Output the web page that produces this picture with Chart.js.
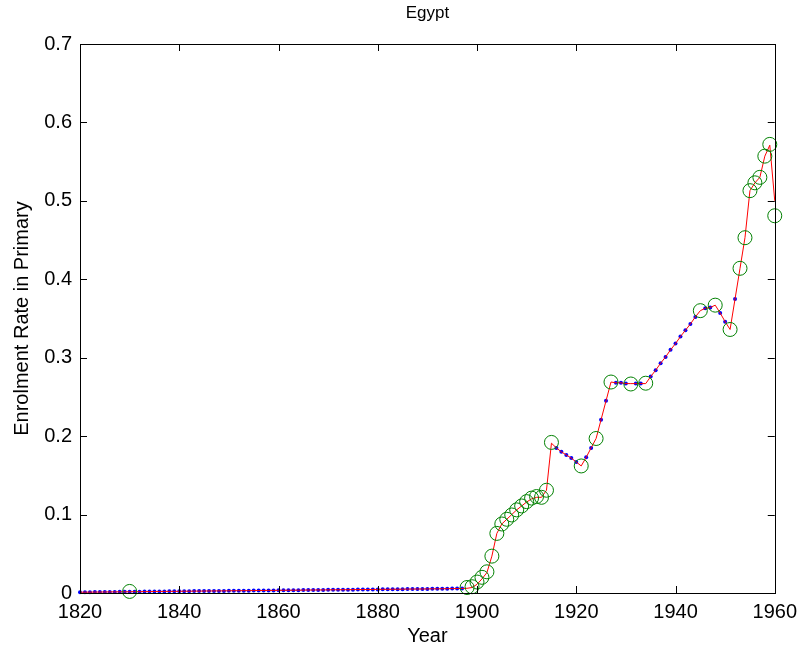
<!DOCTYPE html>
<html>
<head>
<meta charset="utf-8">
<script src="https://cdn.jsdelivr.net/npm/chart.js@4/dist/chart.umd.min.js"></script>
<style>
  html, body { margin: 0; padding: 0; background: #fff; }
  canvas { display: block; }
</style>
</head>
<body>
<canvas id="c" width="804" height="653"></canvas>
<script>
// ---- DATA ----
const chartTitle = "Egypt";
const xTitle = "Year";
const yTitle = "Enrolment Rate in Primary";
const xTicks = [1820, 1840, 1860, 1880, 1900, 1920, 1940, 1960];
const yTicks = [0, 0.1, 0.2, 0.3, 0.4, 0.5, 0.6, 0.7];

// yearly series (red line), 1820 .. 1960
const lineYears = [];
for (let y = 1820; y <= 1960; y++) lineYears.push(y);
const lineValues = [
  0.0010,0.0011,0.0011,0.0012,0.0012,0.0013,0.0014,0.0014,0.0015,0.0015,
  0.0016,0.0017,0.0017,0.0018,0.0018,0.0019,0.0020,0.0020,0.0021,0.0021,
  0.0022,0.0023,0.0023,0.0024,0.0024,0.0025,0.0026,0.0026,0.0027,0.0027,
  0.0028,0.0029,0.0029,0.0030,0.0030,0.0031,0.0032,0.0032,0.0033,0.0033,
  0.0034,0.0035,0.0035,0.0036,0.0036,0.0037,0.0038,0.0038,0.0039,0.0039,
  0.0040,0.0041,0.0041,0.0042,0.0042,0.0043,0.0044,0.0044,0.0045,0.0045,
  0.0046,0.0047,0.0047,0.0048,0.0048,0.0049,0.0050,0.0050,0.0051,0.0051,
  0.0052,0.0053,0.0053,0.0054,0.0055,0.0056,0.0057,0.0058,
  0.006,0.007,0.011,0.018,0.026,0.047,0.076,0.088,0.094,0.100,
  0.106,0.111,0.116,0.120,0.122,0.122,0.131,
  0.191,0.185,0.180,0.176,0.172,0.167,0.162,0.173,0.185,0.197,
  0.221,0.245,0.269,0.268,0.268,0.267,0.267,0.267,0.267,0.267,
  0.276,0.284,0.293,0.301,0.310,0.318,0.327,0.335,0.343,0.352,
  0.360,0.363,0.364,0.367,0.357,0.346,0.336,0.375,0.414,0.453,
  0.513,0.523,0.530,0.557,0.571,0.500
];

// observed points (green circles)
const obsYears = [1830,
  1898,1899,1900,1901,1902,1903,1904,1905,1906,1907,1908,1909,1910,1911,1912,1913,1914,1915,
  1921,1924,1927,1931,1934,1945,1948,1951,
  1953,1954,1955,1956,1957,1958,1959,1960];
const obsValues = [0.002,
  0.007,0.008,0.014,0.020,0.027,0.047,0.076,0.088,0.094,0.0995,0.106,0.111,0.1165,0.121,0.123,0.122,0.131,0.192,
  0.162,0.197,0.269,0.2665,0.2675,0.360,0.367,0.336,
  0.414,0.453,0.513,0.523,0.530,0.557,0.572,0.481];

// ---- BUILD ----
const linePts = lineYears.map((x, i) => ({ x, y: lineValues[i] }));
const obsSet = new Set(obsYears.filter(y => y > 1830));
const bluePts = lineYears.map((x, i) => ({ x, y: lineValues[i] })).filter(p => !obsSet.has(p.x));
const obsPts = obsYears.map((x, i) => ({ x, y: obsValues[i] }));

const FONT = "'Liberation Sans', Arial, Helvetica, sans-serif";

const boxTicks = {
  id: 'boxTicks',
  afterDatasetsDraw(chart) {
    const { ctx, chartArea: a, scales } = chart;
    const L = 7;
    ctx.save();
    ctx.strokeStyle = '#000';
    ctx.lineWidth = 1;
    ctx.beginPath();
    xTicks.forEach(v => {
      const px = Math.round(scales.x.getPixelForValue(v)) + 0.5;
      ctx.moveTo(px, a.bottom); ctx.lineTo(px, a.bottom - L);
      ctx.moveTo(px, a.top); ctx.lineTo(px, a.top + L);
    });
    yTicks.forEach(v => {
      const py = Math.round(scales.y.getPixelForValue(v)) + 0.5;
      ctx.moveTo(a.left, py); ctx.lineTo(a.left + L, py);
      ctx.moveTo(a.right, py); ctx.lineTo(a.right - L, py);
    });
    ctx.stroke();
    ctx.strokeRect(Math.round(a.left) + 0.5, Math.round(a.top) + 0.5,
                   Math.round(a.right - a.left), Math.round(a.bottom - a.top));
    // title centred over the plot box
    ctx.fillStyle = '#000';
    ctx.font = "17px " + FONT;
    ctx.textAlign = 'center';
    ctx.textBaseline = 'middle';
    ctx.fillText(chartTitle, (a.left + a.right) / 2, 13);
    ctx.restore();
  }
};

new Chart(document.getElementById('c'), {
  type: 'scatter',
  data: {
    datasets: [
      {
        label: 'observed',
        data: obsPts,
        showLine: false,
        pointStyle: 'circle',
        pointRadius: 7,
        pointBorderColor: '#008000',
        pointBackgroundColor: 'rgba(0,0,0,0)',
        pointBorderWidth: 1,
        clip: false,
        order: 1
      },
      {
        label: 'series',
        data: linePts,
        showLine: true,
        borderColor: '#ff0000',
        borderWidth: 1,
        pointRadius: 0,
        tension: 0,
        clip: false,
        order: 2
      },
      {
        label: 'interpolated',
        data: bluePts,
        showLine: false,
        pointStyle: 'circle',
        pointRadius: 2,
        pointBorderWidth: 0,
        pointBackgroundColor: '#0000ff',
        pointBorderColor: '#0000ff',
        clip: false,
        order: 3
      }
    ]
  },
  options: {
    responsive: false,
    animation: false,
    events: [],
    layout: { padding: { left: 0, right: 29, top: 44, bottom: 0 } },
    plugins: {
      legend: { display: false },
      tooltip: { enabled: false },
      title: { display: false }
    },
    scales: {
      x: {
        type: 'linear',
        min: 1820, max: 1960,
        afterBuildTicks(scale) { scale.ticks = xTicks.map(v => ({ value: v })); },
        afterFit(scale) { scale.height = 60; },
        grid: { display: false, drawTicks: false },
        border: { display: false },
        ticks: {
          color: '#000', padding: 7,
          font: { family: FONT, size: 20 },
          maxRotation: 0, autoSkip: false,
          callback: v => String(v)
        },
        title: {
          display: true, text: xTitle, color: '#000',
          font: { family: FONT, size: 20, lineHeight: 1.2 },
          padding: { top: 0, bottom: 5 }
        }
      },
      y: {
        type: 'linear',
        min: 0, max: 0.7,
        afterBuildTicks(scale) { scale.ticks = yTicks.map(v => ({ value: v })); },
        afterFit(scale) { scale.width = 80; },
        grid: { display: false, drawTicks: false },
        border: { display: false },
        ticks: {
          color: '#000', padding: 8,
          font: { family: FONT, size: 20 },
          autoSkip: false,
          callback: v => (v === 0 ? '0' : v.toFixed(1))
        },
        title: {
          display: true, text: yTitle, color: '#000',
          font: { family: FONT, size: 20, lineHeight: 1.2 },
          padding: { top: 10, bottom: 0 }
        }
      }
    }
  },
  plugins: [boxTicks]
});
</script>
</body>
</html>
